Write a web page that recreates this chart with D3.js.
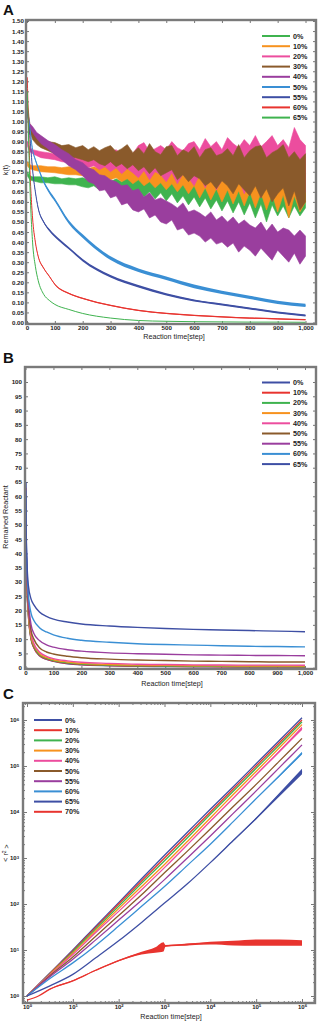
<!DOCTYPE html>
<html>
<head>
<meta charset="utf-8">
<script src="https://cdn.jsdelivr.net/npm/d3@7/dist/d3.min.js"></script>
<style>
  body { margin: 0; background: #fff; }
  svg { display: block; font-family: "Liberation Sans", Arial, sans-serif; }
</style>
</head>
<body>
<svg id="chart" width="320" height="1021"></svg>
<script>
// ---------- data: panel A, k(t) ----------
// noisy runs (0%..40%): upper and lower edge of the noise band
const tN = [1, 10, 20, 35, 50, 75, 100, 125, 150, 175, 200,
  220, 240, 260, 280, 300, 320, 340, 360, 380, 400, 420, 440, 460, 480, 500, 520, 540, 560, 580, 600,
  620, 640, 660, 680, 700, 720, 740, 760, 780, 800, 820, 840, 860, 880, 900, 920, 940, 960, 980, 1000];
const hiA0 = [0.75, 0.73, 0.725, 0.725, 0.725, 0.72, 0.725, 0.715, 0.72, 0.715, 0.72,
  0.71, 0.72, 0.705, 0.715, 0.70, 0.715, 0.70, 0.72, 0.70, 0.72, 0.70, 0.72, 0.70, 0.72, 0.70, 0.725, 0.70, 0.73, 0.70, 0.73,
  0.70, 0.74, 0.70, 0.74, 0.70, 0.75, 0.70, 0.75, 0.70, 0.76, 0.70, 0.76, 0.70, 0.76, 0.70, 0.77, 0.70, 0.77, 0.70, 0.74];
const loA0 = [0.73, 0.71, 0.705, 0.70, 0.695, 0.695, 0.69, 0.69, 0.685, 0.685, 0.675,
  0.67, 0.68, 0.66, 0.675, 0.655, 0.67, 0.645, 0.665, 0.635, 0.66, 0.625, 0.65, 0.615, 0.645, 0.605, 0.64, 0.595, 0.63, 0.585, 0.625,
  0.575, 0.62, 0.565, 0.61, 0.555, 0.605, 0.545, 0.60, 0.535, 0.595, 0.52, 0.59, 0.50, 0.585, 0.53, 0.58, 0.52, 0.58, 0.53, 0.57];
const hiA10 = [0.80, 0.785, 0.78, 0.78, 0.78, 0.775, 0.775, 0.77, 0.775, 0.77, 0.775,
  0.765, 0.775, 0.765, 0.78, 0.765, 0.78, 0.765, 0.785, 0.765, 0.79, 0.77, 0.79, 0.77, 0.80, 0.77, 0.80, 0.77, 0.81, 0.77, 0.81,
  0.78, 0.82, 0.78, 0.82, 0.78, 0.83, 0.78, 0.83, 0.78, 0.84, 0.78, 0.84, 0.78, 0.85, 0.78, 0.85, 0.78, 0.85, 0.78, 0.82];
const loA10 = [0.78, 0.765, 0.76, 0.755, 0.75, 0.748, 0.745, 0.74, 0.735, 0.735, 0.73,
  0.72, 0.73, 0.715, 0.725, 0.71, 0.72, 0.70, 0.715, 0.69, 0.71, 0.68, 0.70, 0.67, 0.695, 0.66, 0.69, 0.65, 0.685, 0.64, 0.68,
  0.62, 0.67, 0.61, 0.665, 0.60, 0.66, 0.59, 0.655, 0.58, 0.65, 0.57, 0.645, 0.56, 0.64, 0.55, 0.635, 0.52, 0.63, 0.55, 0.60];
const hiA20 = [0.90, 0.87, 0.86, 0.855, 0.85, 0.845, 0.84, 0.835, 0.835, 0.83, 0.835,
  0.82, 0.84, 0.83, 0.825, 0.85, 0.86, 0.835, 0.87, 0.84, 0.88, 0.895, 0.85, 0.865, 0.88, 0.86, 0.90, 0.87, 0.855, 0.89, 0.90,
  0.86, 0.915, 0.875, 0.90, 0.86, 0.92, 0.89, 0.87, 0.91, 0.88, 0.93, 0.875, 0.90, 0.93, 0.88, 0.91, 0.87, 0.97, 0.91, 0.88];
const loA20 = [0.88, 0.85, 0.84, 0.83, 0.82, 0.815, 0.81, 0.80, 0.795, 0.79, 0.78,
  0.77, 0.78, 0.76, 0.775, 0.75, 0.77, 0.74, 0.765, 0.745, 0.72, 0.755, 0.71, 0.75, 0.735, 0.70, 0.745, 0.69, 0.74, 0.72, 0.68,
  0.735, 0.67, 0.73, 0.66, 0.71, 0.725, 0.65, 0.72, 0.64, 0.70, 0.715, 0.62, 0.705, 0.61, 0.69, 0.70, 0.59, 0.70, 0.60, 0.65];
const hiA30 = [1.10, 0.99, 0.95, 0.93, 0.92, 0.90, 0.895, 0.88, 0.885, 0.87, 0.88,
  0.86, 0.875, 0.855, 0.87, 0.88, 0.85, 0.865, 0.885, 0.845, 0.87, 0.84, 0.89, 0.85, 0.835, 0.875, 0.88, 0.83, 0.86, 0.845, 0.875,
  0.82, 0.86, 0.87, 0.83, 0.84, 0.865, 0.83, 0.885, 0.82, 0.855, 0.875, 0.88, 0.82, 0.845, 0.86, 0.885, 0.82, 0.85, 0.81, 0.84];
const loA30 = [1.06, 0.95, 0.91, 0.885, 0.87, 0.855, 0.84, 0.83, 0.825, 0.82, 0.81,
  0.80, 0.81, 0.79, 0.78, 0.80, 0.775, 0.79, 0.765, 0.785, 0.755, 0.775, 0.74, 0.77, 0.73, 0.745, 0.76, 0.71, 0.735, 0.70, 0.73,
  0.715, 0.68, 0.70, 0.665, 0.705, 0.68, 0.64, 0.69, 0.66, 0.63, 0.68, 0.62, 0.665, 0.60, 0.64, 0.67, 0.58, 0.655, 0.56, 0.60];
const hiA40 = [1.06, 0.99, 0.975, 0.945, 0.93, 0.905, 0.885, 0.86, 0.84, 0.81, 0.795,
  0.77, 0.76, 0.735, 0.73, 0.71, 0.70, 0.68, 0.685, 0.655, 0.665, 0.625, 0.645, 0.61, 0.62, 0.605, 0.59, 0.57, 0.595, 0.55, 0.56,
  0.545, 0.525, 0.55, 0.51, 0.53, 0.50, 0.525, 0.49, 0.51, 0.485, 0.47, 0.50, 0.455, 0.49, 0.45, 0.47, 0.46, 0.43, 0.46, 0.43];
const loA40 = [1.04, 0.97, 0.945, 0.915, 0.89, 0.865, 0.835, 0.81, 0.78, 0.76, 0.73,
  0.70, 0.69, 0.655, 0.66, 0.62, 0.63, 0.585, 0.595, 0.56, 0.55, 0.565, 0.52, 0.535, 0.50, 0.49, 0.51, 0.46, 0.47, 0.435, 0.445,
  0.43, 0.40, 0.42, 0.39, 0.40, 0.375, 0.395, 0.35, 0.38, 0.36, 0.33, 0.37, 0.34, 0.31, 0.36, 0.33, 0.30, 0.345, 0.29, 0.33];

// decaying runs (50%..65%): mean value and noise half-width
const tA = [1, 5, 10, 20, 30, 40, 60, 80, 100, 150, 200, 300, 400, 500, 600, 700, 800, 900, 1000];
const kA50 = [1.05, 1.02, 0.97, 0.86, 0.81, 0.77, 0.70, 0.65, 0.61, 0.50, 0.43, 0.32, 0.26, 0.22, 0.18, 0.15, 0.125, 0.10, 0.085];
const kA55 = [1.05, 1.00, 0.93, 0.76, 0.65, 0.57, 0.50, 0.46, 0.43, 0.37, 0.31, 0.23, 0.18, 0.14, 0.11, 0.09, 0.07, 0.05, 0.035];
const kA60 = [1.22, 1.00, 0.78, 0.52, 0.40, 0.33, 0.27, 0.23, 0.19, 0.145, 0.12, 0.085, 0.06, 0.045, 0.035, 0.028, 0.022, 0.018, 0.014];
const kA65 = [1.15, 0.95, 0.70, 0.40, 0.28, 0.21, 0.14, 0.11, 0.09, 0.065, 0.045, 0.022, 0.01, 0.006, 0.004, 0.003, 0.002, 0.002, 0.001];
const nA50 = [0.003, 0.003, 0.004, 0.005, 0.006, 0.006, 0.007, 0.008, 0.008, 0.009, 0.009, 0.009, 0.009, 0.009, 0.009, 0.008, 0.008, 0.008, 0.008];
const nA55 = [0.003, 0.003, 0.004, 0.004, 0.005, 0.005, 0.005, 0.006, 0.006, 0.006, 0.006, 0.006, 0.006, 0.006, 0.005, 0.005, 0.005, 0.005, 0.005];
const nA60 = [0.003, 0.003, 0.003, 0.003, 0.003, 0.003, 0.003, 0.003, 0.003, 0.003, 0.003, 0.003, 0.003, 0.003, 0.003, 0.003, 0.003, 0.003, 0.003];

// ---------- data: panel B, remained reactant ----------
const tB = [1, 2, 5, 10, 20, 30, 50, 75, 100, 150, 200, 300, 400, 500, 600, 700, 800, 900, 1000];
const rB0 = [65, 48, 30, 19, 10, 7, 4.2, 2.9, 2.2, 1.4, 1.0, 0.7, 0.5, 0.4, 0.35, 0.3, 0.25, 0.25, 0.2];
const rB10 = [63, 47, 30, 19, 10, 7, 4.3, 3.0, 2.3, 1.5, 1.1, 0.75, 0.55, 0.45, 0.4, 0.35, 0.3, 0.3, 0.25];
const rB20 = [60, 46, 30, 19.5, 10.5, 7.5, 4.6, 3.3, 2.5, 1.7, 1.3, 0.9, 0.7, 0.6, 0.5, 0.45, 0.4, 0.4, 0.35];
const rB30 = [58, 45, 30, 20, 11, 8, 5, 3.6, 2.8, 2.0, 1.5, 1.1, 0.9, 0.8, 0.7, 0.65, 0.6, 0.6, 0.55];
const rB40 = [57, 45, 31, 21, 12, 8.5, 5.5, 4.0, 3.2, 2.4, 1.9, 1.5, 1.2, 1.1, 1.0, 0.95, 0.9, 0.9, 0.85];
const rB50 = [58, 46, 32, 22, 13, 10, 7, 5.5, 4.8, 4.0, 3.5, 3.0, 2.7, 2.5, 2.3, 2.2, 2.1, 2.0, 2.0];
const rB55 = [60, 48, 34, 24, 15, 12, 9.5, 8, 7.2, 6.3, 5.8, 5.2, 4.9, 4.7, 4.5, 4.4, 4.3, 4.25, 4.2];
const rB60 = [62, 50, 36, 26, 19, 16.5, 14, 12.5, 11.5, 10.3, 9.6, 8.9, 8.4, 8.1, 7.9, 7.7, 7.5, 7.4, 7.3];
const rB65 = [65, 52, 38, 29, 24, 22, 19.5, 18, 17, 16, 15.3, 14.6, 14.1, 13.7, 13.4, 13.2, 13.0, 12.8, 12.6];

// ---------- data: panel C, <r^2> (log10 of time and of <r^2>) ----------
const logTC = [0, 0.5, 1, 1.5, 2, 2.5, 3, 3.5, 4, 4.5, 5, 5.5, 6];
const logR0 = [0, 0.5, 1.0, 1.52, 2.03, 2.55, 3.06, 3.56, 4.06, 4.55, 5.05, 5.55, 6.05];
const logR10 = [0, 0.49, 0.98, 1.49, 2.0, 2.5, 3.0, 3.5, 4.0, 4.5, 5.0, 5.5, 6.0];
const logR20 = [0, 0.48, 0.96, 1.46, 1.95, 2.45, 2.94, 3.44, 3.95, 4.45, 4.95, 5.45, 5.96];
const logR30 = [0, 0.47, 0.93, 1.42, 1.9, 2.38, 2.86, 3.36, 3.87, 4.38, 4.88, 5.39, 5.9];
const logR40 = [0, 0.46, 0.9, 1.38, 1.84, 2.31, 2.79, 3.29, 3.8, 4.3, 4.81, 5.31, 5.82];
const logR50 = [0, 0.44, 0.85, 1.3, 1.75, 2.2, 2.68, 3.15, 3.63, 4.12, 4.6, 5.1, 5.6];
const logR55 = [0, 0.42, 0.8, 1.22, 1.65, 2.08, 2.53, 3.0, 3.48, 3.97, 4.46, 4.96, 5.46];
const logR60 = [0, 0.38, 0.72, 1.1, 1.52, 1.95, 2.38, 2.84, 3.3, 3.79, 4.29, 4.78, 5.28];
const logR65 = [0, 0.22, 0.47, 0.83, 1.2, 1.6, 2.02, 2.44, 2.9, 3.38, 3.86, 4.37, 4.88];
const nC40 = [0, 0, 0, 0, 0, 0, 0, 0, 0, 0, 0.01, 0.02, 0.04];
const nC60 = [0, 0, 0, 0, 0, 0, 0, 0, 0, 0, 0.01, 0.02, 0.03];
const nC65 = [0, 0, 0, 0, 0, 0, 0, 0, 0, 0.01, 0.02, 0.04, 0.06];
const logTRed = [0, 0.25, 0.5, 1, 1.5, 2, 2.5, 2.8, 2.98, 3.02, 3.5, 4, 4.5, 5, 5.5, 6];
const logRRed = [-0.09, 0.0, 0.15, 0.33, 0.56, 0.77, 0.93, 1.0, 1.07, 1.09, 1.12, 1.15, 1.15, 1.16, 1.16, 1.15];
const nRed = [0, 0, 0.01, 0.01, 0.01, 0.015, 0.03, 0.06, 0.1, 0.02, 0.02, 0.03, 0.05, 0.07, 0.07, 0.06];

const labelsAB = ['0%', '10%', '20%', '30%', '40%', '50%', '55%', '60%', '65%'];
const labelsC = ['0%', '10%', '20%', '30%', '40%', '50%', '55%', '60%', '65%', '70%'];

const col = {
  green: '#3fb34f',
  orange: '#f7921e',
  pink: '#ec4d9e',
  brown: '#8a5a2b',
  purple: '#9a3e9e',
  lblue: '#3a8fd4',
  dblue: '#3e4fa4',
  red: '#e8342f'
};

const svg = d3.select('#chart');
const frameColor = '#7a7a7a';
const tickColor = '#555';

function styleAxis(g, fontSize) {
  g.select('.domain').remove();
  g.selectAll('.tick line').attr('stroke', tickColor).attr('stroke-width', 0.8);
  g.selectAll('.tick text')
    .attr('fill', '#222')
    .attr('font-size', fontSize)
    .attr('font-weight', 'bold')
    .attr('font-family', '"Liberation Sans", Arial, sans-serif');
}

function drawFrame(box) {
  svg.append('rect')
    .attr('x', box.x0).attr('y', box.y0)
    .attr('width', box.x1 - box.x0).attr('height', box.y1 - box.y0)
    .attr('fill', 'none').attr('stroke', frameColor).attr('stroke-width', 2.4);
}

function addClip(id, box) {
  svg.append('clipPath').attr('id', id)
    .append('rect')
    .attr('x', box.x0).attr('y', box.y0)
    .attr('width', box.x1 - box.x0).attr('height', box.y1 - box.y0);
}

// smooth run: centre line plus an optional symmetric noise band
function drawSeries(g, xs, ys, noise, xFn, yFn, color, width) {
  const pts = xs.map((t, i) => ({ t, v: ys[i], n: noise ? noise[i] : 0 }));
  if (noise) {
    g.append('path')
      .datum(pts)
      .attr('fill', color)
      .attr('d', d3.area()
        .x((d) => xFn(d.t))
        .y0((d) => yFn(d.v - d.n))
        .y1((d) => yFn(d.v + d.n))
        .curve(d3.curveMonotoneX));
  }
  g.append('path')
    .datum(pts)
    .attr('fill', 'none')
    .attr('stroke', color)
    .attr('stroke-width', width)
    .attr('d', d3.line().x((d) => xFn(d.t)).y((d) => yFn(d.v)).curve(d3.curveMonotoneX));
}

// noisy run: filled band between jagged upper and lower edges
function drawBand(g, xs, hi, lo, xFn, yFn, color) {
  const pts = xs.map((t, i) => ({ t, hi: hi[i], lo: lo[i] }));
  g.append('path')
    .datum(pts)
    .attr('fill', color)
    .attr('stroke', color)
    .attr('stroke-width', 0.6)
    .attr('stroke-linejoin', 'miter')
    .attr('d', d3.area()
      .x((d) => xFn(d.t))
      .y0((d) => yFn(d.lo))
      .y1((d) => yFn(d.hi)));
}

function drawLegend(x0, yTop, labels, colors) {
  const g = svg.append('g');
  labels.forEach((lab, i) => {
    const yy = yTop + i * 10.2;
    g.append('line')
      .attr('x1', x0).attr('x2', x0 + 28)
      .attr('y1', yy).attr('y2', yy)
      .attr('stroke', colors[i]).attr('stroke-width', 2);
    g.append('text')
      .attr('x', x0 + 31).attr('y', yy)
      .attr('dy', '0.35em')
      .attr('font-size', 7.2)
      .attr('font-weight', 'bold')
      .attr('fill', '#222')
      .text(lab);
  });
}

function panelLetter(txt, y) {
  svg.append('text').attr('x', 3).attr('y', y)
    .attr('font-size', 15).attr('font-weight', 'bold').attr('fill', '#111')
    .text(txt);
}

function xTitle(x, y) {
  svg.append('text').attr('x', x).attr('y', y)
    .attr('text-anchor', 'middle').attr('font-size', 7.2).attr('fill', '#222')
    .text('Reaction time[step]');
}

function yTitle(y, node) {
  const t = svg.append('text')
    .attr('transform', `translate(8,${y}) rotate(-90)`)
    .attr('text-anchor', 'middle').attr('font-size', 7.2).attr('fill', '#222');
  node(t);
}

// ---------- panel A ----------
(function () {
  const box = { x0: 26, x1: 316, y0: 20, y1: 324 };
  const x = d3.scaleLinear().domain([0, 1000]).range([27, 305.5]);
  const y = d3.scaleLinear().domain([0, 1.5]).range([322.5, 21]);
  addClip('clipA', box);

  const yTicks = d3.range(0, 31).map((i) => i * 0.05);
  const xTicks = d3.range(0, 11).map((i) => i * 100);

  svg.append('g').attr('transform', `translate(${box.x0},0)`)
    .call(d3.axisLeft(y).tickValues(yTicks).tickSize(-3).tickPadding(2).tickFormat(d3.format('.2f')))
    .call((g) => styleAxis(g, 6.2));
  svg.append('g').attr('transform', `translate(${box.x1},0)`)
    .call(d3.axisRight(y).tickValues(yTicks).tickSize(-3).tickFormat(''))
    .call((g) => styleAxis(g, 6));
  svg.append('g').attr('transform', `translate(0,${box.y1})`)
    .call(d3.axisBottom(x).tickValues(xTicks).tickSize(-3).tickPadding(2).tickFormat(d3.format(',')))
    .call((g) => styleAxis(g, 6.2));
  svg.append('g').attr('transform', `translate(0,${box.y0})`)
    .call(d3.axisTop(x).tickValues(xTicks).tickSize(-3).tickFormat(''))
    .call((g) => styleAxis(g, 6));

  const plot = svg.append('g').attr('clip-path', 'url(#clipA)');
  drawBand(plot, tN, hiA0, loA0, x, y, col.green);
  drawBand(plot, tN, hiA10, loA10, x, y, col.orange);
  drawBand(plot, tN, hiA20, loA20, x, y, col.pink);
  drawBand(plot, tN, hiA30, loA30, x, y, col.brown);
  drawBand(plot, tN, hiA40, loA40, x, y, col.purple);
  drawSeries(plot, tA, kA50, nA50, x, y, col.lblue, 1);
  drawSeries(plot, tA, kA55, nA55, x, y, col.dblue, 1);
  drawSeries(plot, tA, kA60, nA60, x, y, col.red, 1);
  drawSeries(plot, tA, kA65, null, x, y, col.green, 1);

  drawFrame(box);
  drawLegend(262, 36, labelsAB, [col.green, col.orange, col.pink, col.brown, col.purple,
    col.lblue, col.dblue, col.red, col.green]);
  panelLetter('A', 15);
  xTitle(174, 339);
  yTitle(170, (t) => t.text('k(t)'));
})();

// ---------- panel B ----------
(function () {
  const box = { x0: 25, x1: 316, y0: 367, y1: 669 };
  const x = d3.scaleLinear().domain([0, 1000]).range([25.5, 305]);
  const y = d3.scaleLinear().domain([0, 100]).range([667.7, 382]);
  addClip('clipB', box);

  const yTicks = d3.range(0, 21).map((i) => i * 5);
  const xTicks = d3.range(0, 11).map((i) => i * 100);

  svg.append('g').attr('transform', `translate(${box.x0},0)`)
    .call(d3.axisLeft(y).tickValues(yTicks).tickSize(-3).tickPadding(3))
    .call((g) => styleAxis(g, 6.2));
  svg.append('g').attr('transform', `translate(${box.x1},0)`)
    .call(d3.axisRight(y).tickValues(yTicks).tickSize(-3).tickFormat(''))
    .call((g) => styleAxis(g, 6));
  svg.append('g').attr('transform', `translate(0,${box.y1})`)
    .call(d3.axisBottom(x).tickValues(xTicks).tickSize(-3).tickPadding(2).tickFormat(d3.format(',')))
    .call((g) => styleAxis(g, 6.2));
  svg.append('g').attr('transform', `translate(0,${box.y0})`)
    .call(d3.axisTop(x).tickValues(xTicks).tickSize(-3).tickFormat(''))
    .call((g) => styleAxis(g, 6));

  const plot = svg.append('g').attr('clip-path', 'url(#clipB)');
  const series = [
    [rB0, col.dblue], [rB10, col.red], [rB20, col.green], [rB30, col.orange],
    [rB40, col.pink], [rB50, col.brown], [rB55, col.purple], [rB60, col.lblue], [rB65, col.dblue]
  ];
  series.forEach(([vals, c]) => drawSeries(plot, tB, vals, null, x, y, c, 1.4));

  drawFrame(box);
  drawLegend(262, 382.5, labelsAB, series.map((s) => s[1]));
  panelLetter('B', 363);
  xTitle(172, 686);
  yTitle(517, (t) => t.text('Remained Reactant'));
})();

// ---------- panel C ----------
(function () {
  const box = { x0: 23, x1: 315, y0: 703, y1: 1003 };
  const x = d3.scaleLog().domain([1, 1e6]).range([27, 302]);
  const y = d3.scaleLog().domain([1, 1e6]).range([996, 720]);
  addClip('clipC', box);

  const xLo = x.invert(box.x0), xHi = x.invert(box.x1);
  const yLo = y.invert(box.y1), yHi = y.invert(box.y0);
  const majors = d3.range(0, 7).map((k) => Math.pow(10, k));
  const minors = [];
  d3.range(-1, 7).forEach((k) => {
    for (let m = 2; m <= 9; m++) minors.push(m * Math.pow(10, k));
  });
  const minorX = minors.filter((v) => v > xLo && v < xHi);
  const minorY = minors.filter((v) => v > yLo && v < yHi);

  const supLabel = (sel) => {
    sel.selectAll('.tick text').each(function (d) {
      const t = d3.select(this);
      const k = Math.round(Math.log10(d));
      t.text(null);
      t.append('tspan').text('10');
      t.append('tspan').attr('dy', '-0.45em').attr('font-size', 4.2).text(k);
    });
  };

  // minor ticks first, then majors
  svg.append('g').attr('transform', `translate(${box.x0},0)`)
    .call(d3.axisLeft(y).tickValues(minorY).tickSize(-2).tickFormat(''))
    .call((g) => styleAxis(g, 6));
  svg.append('g').attr('transform', `translate(${box.x1},0)`)
    .call(d3.axisRight(y).tickValues(minorY).tickSize(-2).tickFormat(''))
    .call((g) => styleAxis(g, 6));
  svg.append('g').attr('transform', `translate(0,${box.y1})`)
    .call(d3.axisBottom(x).tickValues(minorX).tickSize(-2).tickFormat(''))
    .call((g) => styleAxis(g, 6));
  svg.append('g').attr('transform', `translate(0,${box.y0})`)
    .call(d3.axisTop(x).tickValues(minorX).tickSize(-2).tickFormat(''))
    .call((g) => styleAxis(g, 6));

  svg.append('g').attr('transform', `translate(${box.x0},0)`)
    .call(d3.axisLeft(y).tickValues(majors).tickSize(-4).tickPadding(4))
    .call((g) => styleAxis(g, 6))
    .call(supLabel);
  svg.append('g').attr('transform', `translate(${box.x1},0)`)
    .call(d3.axisRight(y).tickValues(majors).tickSize(-4).tickFormat(''))
    .call((g) => styleAxis(g, 6));
  svg.append('g').attr('transform', `translate(0,${box.y1})`)
    .call(d3.axisBottom(x).tickValues(majors).tickSize(-4).tickPadding(2))
    .call((g) => styleAxis(g, 6))
    .call(supLabel);
  svg.append('g').attr('transform', `translate(0,${box.y0})`)
    .call(d3.axisTop(x).tickValues(majors).tickSize(-4).tickFormat(''))
    .call((g) => styleAxis(g, 6));

  const xFn = (e) => x(Math.pow(10, e));
  const yFn = (e) => y(Math.pow(10, e));
  const plot = svg.append('g').attr('clip-path', 'url(#clipC)');
  const series = [
    [logTC, logR0, null, col.dblue], [logTC, logR10, null, col.red], [logTC, logR20, null, col.green],
    [logTC, logR30, null, col.orange], [logTC, logR40, nC40, col.pink], [logTC, logR50, null, col.brown],
    [logTC, logR55, null, col.purple], [logTC, logR60, nC60, col.lblue], [logTC, logR65, nC65, col.dblue],
    [logTRed, logRRed, nRed, col.red]
  ];
  series.forEach(([ts, vals, noise, c]) => drawSeries(plot, ts, vals, noise, xFn, yFn, c, 1.3));

  drawFrame(box);
  drawLegend(34, 720, labelsC, series.map((s) => s[3]));
  panelLetter('C', 699);
  xTitle(171, 1019);
  yTitle(853, (t) => {
    t.append('tspan').text('< r');
    t.append('tspan').attr('dy', '-0.4em').attr('font-size', 5).text('2');
    t.append('tspan').attr('dy', '0.4em').text(' >');
  });
})();
</script>
</body>
</html>
